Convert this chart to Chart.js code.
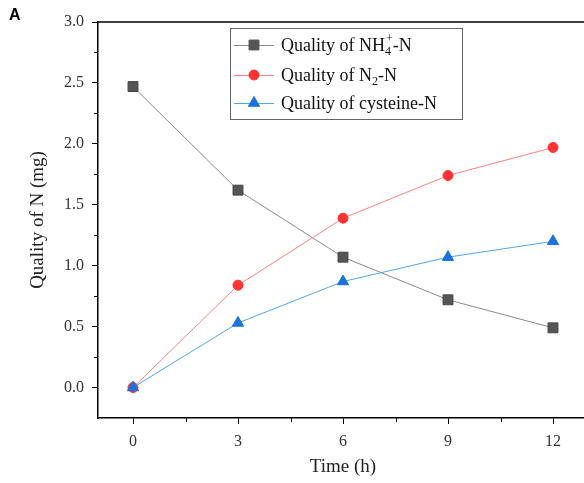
<!DOCTYPE html>
<html>
<head>
<meta charset="utf-8">
<script src="https://cdn.jsdelivr.net/npm/chart.js@4/dist/chart.umd.min.js"></script>
<style>
  body { margin: 0; overflow: hidden; background: #fff; }
  #wrap { position: relative; width: 600px; height: 483px; }
  #panelLabel { position: absolute; left: 9px; top: 6px; font: bold 16px "Liberation Sans", Arial, sans-serif; color: #000; }
</style>
</head>
<body>
<div id="wrap">
  <canvas id="chart" width="600" height="483"></canvas>
  <div id="panelLabel">A</div>
</div>
<script>
  // Data
  const timeHours = [0, 3, 6, 9, 12];
  const nh4N = [2.47, 1.62, 1.07, 0.72, 0.49];
  const n2N = [0.0, 0.84, 1.39, 1.74, 1.97];
  const cysteineN = [0.0, 0.53, 0.87, 1.07, 1.20];

  const xTickValues = [0, 3, 6, 9, 12];
  const xMinorValues = [1.5, 4.5, 7.5, 10.5];
  const yTickValues = [0, 0.5, 1.0, 1.5, 2.0, 2.5, 3.0];
  const yMinorValues = [0.25, 0.75, 1.25, 1.75, 2.25, 2.75];

  const serif = "'Liberation Serif', 'Times New Roman', serif";

  function toPoints(values) {
    return timeHours.map((t, i) => ({ x: t, y: values[i] }));
  }

  // Legend config (drawn inside the plot like the original)
  const legendItems = [
    { parts: [["Quality of NH", "n"], ["4", "sub", "+"], ["-N", "n"]], style: "rect", line: "#8a8a8a", fill: "#555555" },
    { parts: [["Quality of N", "n"], ["2", "sub"], ["-N", "n"]], style: "circle", line: "#ff8080", fill: "#ff3333" },
    { parts: [["Quality of cysteine-N", "n"]], style: "triangle", line: "#4ea6ec", fill: "#1a73dc" }
  ];

  // Top frame line, minor ticks and legend
  const framePlugin = {
    id: "frame",
    afterDraw(chart) {
      const ctx = chart.ctx;
      const a = chart.chartArea;
      const xs = chart.scales.x;
      const ys = chart.scales.y;
      ctx.save();
      ctx.strokeStyle = "#000";
      ctx.lineWidth = 1.5;
      ctx.beginPath();
      ctx.moveTo(a.left, a.top);
      ctx.lineTo(chart.width, a.top);
      ctx.stroke();

      // minor ticks
      ctx.lineWidth = 1;
      ctx.beginPath();
      xMinorValues.forEach(v => {
        const px = Math.round(xs.getPixelForValue(v)) + 0.5;
        ctx.moveTo(px, a.bottom);
        ctx.lineTo(px, a.bottom + 4);
      });
      yMinorValues.forEach(v => {
        const py = Math.round(ys.getPixelForValue(v)) + 0.5;
        ctx.moveTo(a.left, py);
        ctx.lineTo(a.left - 4, py);
      });
      ctx.stroke();

      // legend
      const bx = 230, by = 28, bw = 232, bh = 91;
      ctx.fillStyle = "#fff";
      ctx.fillRect(bx, by, bw, bh);
      ctx.strokeStyle = "#666";
      ctx.lineWidth = 1;
      ctx.strokeRect(bx + 0.5, by + 0.5, bw, bh);

      const rows = [45, 75, 103];
      legendItems.forEach((item, i) => {
        const cy = rows[i];
        ctx.strokeStyle = item.line;
        ctx.lineWidth = 1;
        ctx.beginPath();
        ctx.moveTo(234, cy + 0.5);
        ctx.lineTo(274, cy + 0.5);
        ctx.stroke();
        ctx.fillStyle = item.fill;
        ctx.strokeStyle = item.fill;
        const r = item.style === "rect" ? 7 : item.style === "circle" ? 5 : 6.5;
        Chart.helpers.drawPoint(ctx, { pointStyle: item.style, radius: r, rotation: 0, borderWidth: 1 }, 254, cy);

        let x = 281;
        ctx.fillStyle = "#111";
        ctx.textBaseline = "alphabetic";
        const base = cy + 6;
        item.parts.forEach(p => {
          if (p[1] === "sub") {
            ctx.font = "12px " + serif;
            ctx.fillText(p[0], x, base + 4);
            let w = ctx.measureText(p[0]).width;
            if (p[2]) {
              ctx.fillText(p[2], x + 1, base - 9);
              w = Math.max(w, ctx.measureText(p[2]).width + 1);
            }
            x += w;
          } else {
            ctx.font = "18px " + serif;
            ctx.fillText(p[0], x, base);
            x += ctx.measureText(p[0]).width;
          }
        });
      });
      ctx.restore();
    }
  };

  new Chart(document.getElementById("chart"), {
    type: "line",
    data: {
      datasets: [
        {
          label: "Quality of NH4+-N",
          data: toPoints(nh4N),
          borderColor: "#8a8a8a",
          backgroundColor: "#555555",
          pointBorderColor: "#444444",
          borderWidth: 1,
          pointStyle: "rect",
          pointRadius: 7,
          pointBorderWidth: 1,
          order: 3
        },
        {
          label: "Quality of N2-N",
          data: toPoints(n2N),
          borderColor: "#ff8080",
          backgroundColor: "#ff3333",
          pointBorderColor: "#ff3333",
          borderWidth: 1,
          pointStyle: "circle",
          pointRadius: 5,
          pointBorderWidth: 1,
          order: 2
        },
        {
          label: "Quality of cysteine-N",
          data: toPoints(cysteineN),
          borderColor: "#4ea6ec",
          backgroundColor: "#1a73dc",
          pointBorderColor: "#1a73dc",
          borderWidth: 1,
          pointStyle: "triangle",
          pointRadius: 6.5,
          pointBorderWidth: 1,
          order: 1
        }
      ]
    },
    options: {
      responsive: false,
      animation: false,
      layout: { padding: { top: 22, right: 12, left: 0, bottom: 0 } },
      plugins: {
        legend: { display: false },
        tooltip: { enabled: false }
      },
      scales: {
        x: {
          type: "linear",
          min: -1,
          max: 13,
          afterBuildTicks: s => { s.ticks = xTickValues.map(v => ({ value: v })); },
          afterFit: s => { s.height = 65; },
          grid: { drawOnChartArea: false, drawTicks: true, tickLength: 6, color: "#000", lineWidth: 1 },
          border: { display: true, color: "#000", width: 1.5 },
          ticks: { padding: 8, color: "#333", font: { family: serif, size: 16 } },
          title: { display: true, text: "Time (h)", color: "#222", padding: 5, font: { family: serif, size: 19 } }
        },
        y: {
          type: "linear",
          min: -0.25,
          max: 3.0,
          afterBuildTicks: s => { s.ticks = yTickValues.map(v => ({ value: v })); },
          afterFit: s => { s.width = 98; },
          grid: { drawOnChartArea: false, drawTicks: true, tickLength: 6, color: "#000", lineWidth: 1 },
          border: { display: true, color: "#000", width: 1.5 },
          ticks: { padding: 8, color: "#333", font: { family: serif, size: 16 }, callback: v => v.toFixed(1) },
          title: { display: true, text: "Quality of N (mg)", color: "#222", padding: 27, font: { family: serif, size: 19 } }
        }
      }
    },
    plugins: [framePlugin]
  });
</script>
</body>
</html>
